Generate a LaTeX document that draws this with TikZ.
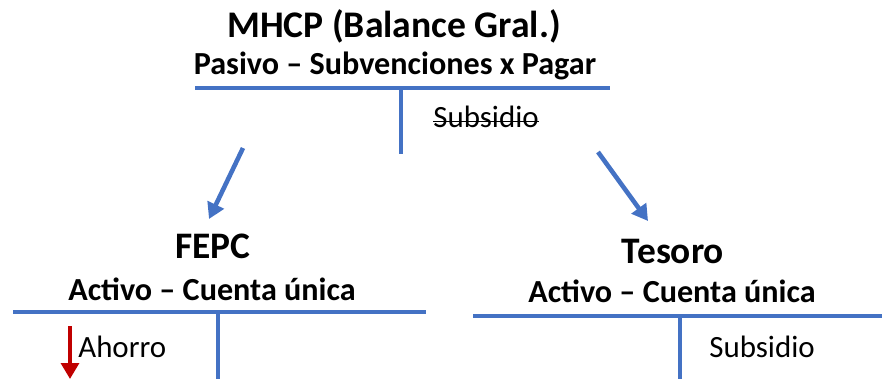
\documentclass[tikz,border=0pt]{standalone}
\usepackage{fontspec}
\setmainfont{Carlito}
\usetikzlibrary{arrows.meta}
\definecolor{accblue}{HTML}{4472C4}
\definecolor{accred}{HTML}{C00000}
\tikzset{%
  entity/.style  = {font=\bfseries\fontsize{21.4}{25}\selectfont, inner sep=0pt, anchor=base},%
  subent/.style  = {font=\bfseries\fontsize{21.3}{25}\selectfont, inner sep=0pt, anchor=base},%
  account/.style = {font=\bfseries\fontsize{18.3}{22}\selectfont, inner sep=0pt, anchor=base},%
  entry/.style   = {font=\fontsize{17.6}{21}\selectfont, inner sep=0pt, anchor=base west},%
  tline/.style   = {draw=accblue, line width=2pt},%
  flow/.style    = {draw=accblue, line width=2.6pt, -{Triangle[length=9pt,width=10pt]}},%
  drop/.style    = {draw=accred, line width=2.2pt, -{Triangle[length=9pt,width=10pt]}}%
}

\begin{document}
\begin{tikzpicture}[x=0.02cm,y=-0.02cm]
	\useasboundingbox (0,0) rectangle (882,379);
	% MHCP
	\node [entity]  (mhcp)   at (394,37)  {MHCP (Balance Gral.)};
	\node [account] (pasivo) at (395,74)  {Pasivo -- Subvenciones x Pagar};
	\coordinate (mL) at (195,88);
	\coordinate (mR) at (610,88);
	\coordinate (mT) at (401,88);
	\coordinate (mB) at (401,154);
	\draw [tline] (mL) -- (mR);
	\draw [tline] (mT) -- (mB);
	\node [entry] (subA) at (433,127) {Subsidio};
	\draw [line width=1pt] ([yshift=3.2pt]subA.base west) -- ([yshift=3.2pt]subA.base east);
	% arrows
	\coordinate (aL1) at (243,148);
	\coordinate (aL2) at (209,219);
	\coordinate (aR1) at (598,152);
	\coordinate (aR2) at (648,221);
	\draw [flow] (aL1) -- (aL2);
	\draw [flow] (aR1) -- (aR2);
	% FEPC
	\node [subent]  (fepc)  at (213,258) {FEPC};
	\node [account] (actL)  at (212,300) {Activo -- Cuenta única};
	\coordinate (fL) at (13,312);
	\coordinate (fR) at (426,312);
	\coordinate (fT) at (218,312);
	\coordinate (fB) at (218,379);
	\draw [tline] (fL) -- (fR);
	\draw [tline] (fT) -- (fB);
	\node [entry] (ahorro) at (78,357) {Ahorro};
	\coordinate (dT) at (70,326);
	\coordinate (dB) at (70,379);
	\draw [drop] (dT) -- (dB);
	% Tesoro
	\node [subent]  (tesoro) at (673,263) {Tesoro};
	\node [account] (actR)   at (672,302) {Activo -- Cuenta única};
	\coordinate (tL) at (473,316);
	\coordinate (tR) at (882,316);
	\coordinate (tT) at (680,316);
	\coordinate (tB) at (680,379);
	\draw [tline] (tL) -- (tR);
	\draw [tline] (tT) -- (tB);
	\node [entry] (subB) at (709,357) {Subsidio};
\end{tikzpicture}
\end{document}
